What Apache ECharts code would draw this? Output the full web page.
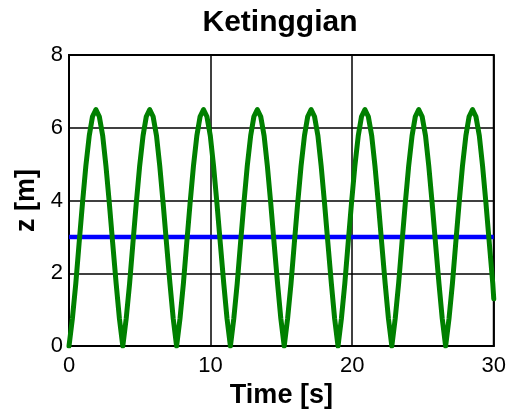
<!DOCTYPE html>
<html>
<head>
<meta charset="utf-8">
<script src="https://cdn.jsdelivr.net/npm/echarts@6/dist/echarts.min.js"></script>
<style>html,body{margin:0;padding:0;background:#fff}#c{width:509px;height:414px}</style>
</head>
<body>
<div id="c"></div>
<script>
var titleText = 'Ketinggian';
var xName = 'Time [s]';
var yName = 'z [m]';
var xTicks = [0, 10, 20, 30];
var yTicks = [0, 2, 4, 6, 8];

// green series: height z(t)
var zTime = [
  0, 0.24, 0.48, 0.71, 0.95, 1.19, 1.43, 1.66, 1.90, 2.14, 2.38, 2.61, 2.85, 3.09, 3.33, 3.56,
  3.80, 4.04, 4.28, 4.51, 4.75, 4.99, 5.23, 5.46, 5.70, 5.94, 6.18, 6.41, 6.65, 6.89, 7.13, 7.36,
  7.60, 7.84, 8.08, 8.31, 8.55, 8.79, 9.03, 9.26, 9.50, 9.74, 9.98, 10.21, 10.45, 10.69, 10.93, 11.16,
  11.40, 11.64, 11.88, 12.11, 12.35, 12.59, 12.83, 13.06, 13.30, 13.54, 13.78, 14.01, 14.25, 14.49, 14.73, 14.96,
  15.20, 15.44, 15.68, 15.91, 16.15, 16.39, 16.63, 16.86, 17.10, 17.34, 17.58, 17.81, 18.05, 18.29, 18.53, 18.76,
  19.00, 19.24, 19.48, 19.71, 19.95, 20.19, 20.43, 20.66, 20.90, 21.14, 21.38, 21.61, 21.85, 22.09, 22.33, 22.56,
  22.80, 23.04, 23.28, 23.51, 23.75, 23.99, 24.23, 24.46, 24.70, 24.94, 25.18, 25.41, 25.65, 25.89, 26.13, 26.36,
  26.60, 26.84, 27.08, 27.31, 27.55, 27.79, 28.03, 28.26, 28.50, 28.74, 28.98, 29.21, 29.45, 29.69, 29.93, 30.00];
var zValue = [
  0, 0.76, 1.72, 2.81, 3.92, 4.95, 5.78, 6.31, 6.5, 6.31, 5.78, 4.95, 3.92, 2.81, 1.72, 0.76,
  0, 0.76, 1.72, 2.81, 3.92, 4.95, 5.78, 6.31, 6.5, 6.31, 5.78, 4.95, 3.92, 2.81, 1.72, 0.76,
  0, 0.76, 1.72, 2.81, 3.92, 4.95, 5.78, 6.31, 6.5, 6.31, 5.78, 4.95, 3.92, 2.81, 1.72, 0.76,
  0, 0.76, 1.72, 2.81, 3.92, 4.95, 5.78, 6.31, 6.5, 6.31, 5.78, 4.95, 3.92, 2.81, 1.72, 0.76,
  0, 0.76, 1.72, 2.81, 3.92, 4.95, 5.78, 6.31, 6.5, 6.31, 5.78, 4.95, 3.92, 2.81, 1.72, 0.76,
  0, 0.76, 1.72, 2.81, 3.92, 4.95, 5.78, 6.31, 6.5, 6.31, 5.78, 4.95, 3.92, 2.81, 1.72, 0.76,
  0, 0.76, 1.72, 2.81, 3.92, 4.95, 5.78, 6.31, 6.5, 6.31, 5.78, 4.95, 3.92, 2.81, 1.72, 0.76,
  0, 0.76, 1.72, 2.81, 3.92, 4.95, 5.78, 6.31, 6.5, 6.31, 5.78, 4.95, 3.92, 2.81, 1.72, 1.30];

// blue series: constant reference level
var refTime = [0, 30];
var refValue = [3, 3];

var zData = zTime.map(function (t, i) { return [t, zValue[i]]; });
var refData = refTime.map(function (t, i) { return [t, refValue[i]]; });

var chart = echarts.init(document.getElementById('c'), null, {renderer: 'canvas'});
var font = 'Arial, "Liberation Sans", sans-serif';
chart.setOption({
  animation: false,
  backgroundColor: '#ffffff',
  title: {
    text: titleText, left: 275, top: 3, textAlign: 'center',
    textStyle: {fontFamily: font, fontSize: 30, fontWeight: 'bold', color: '#000'}
  },
  grid: {left: 69, top: 55, right: 15, bottom: 64, show: true, borderColor: '#000', borderWidth: 2, backgroundColor: 'transparent'},
  xAxis: {
    type: 'value', min: xTicks[0], max: xTicks[xTicks.length - 1], interval: 10,
    name: xName, nameLocation: 'middle', nameGap: 32,
    nameTextStyle: {fontFamily: font, fontSize: 27, fontWeight: 'bold', color: '#000'},
    axisLine: {show: true, lineStyle: {color: '#000', width: 2}},
    axisTick: {show: false},
    axisLabel: {fontFamily: font, fontSize: 22, color: '#000', margin: 9},
    splitLine: {show: true, lineStyle: {color: '#000', width: 1.5}}
  },
  yAxis: {
    type: 'value', min: yTicks[0], max: yTicks[yTicks.length - 1], interval: 2,
    name: yName, nameLocation: 'middle', nameGap: 29,
    nameTextStyle: {fontFamily: font, fontSize: 27, fontWeight: 'bold', color: '#000'},
    axisLine: {show: true, lineStyle: {color: '#000', width: 2}},
    axisTick: {show: false},
    axisLabel: {fontFamily: font, fontSize: 22, color: '#000', margin: 6},
    splitLine: {show: true, lineStyle: {color: '#000', width: 1.5}}
  },
  series: [
    {type: 'line', data: refData, showSymbol: false, lineStyle: {color: '#0000ff', width: 4.5}, z: 3},
    {type: 'line', data: zData, smooth: false, showSymbol: false, lineStyle: {color: '#008000', width: 5, cap: 'round', join: 'round'}, z: 4}
  ]
});
</script>
</body>
</html>
